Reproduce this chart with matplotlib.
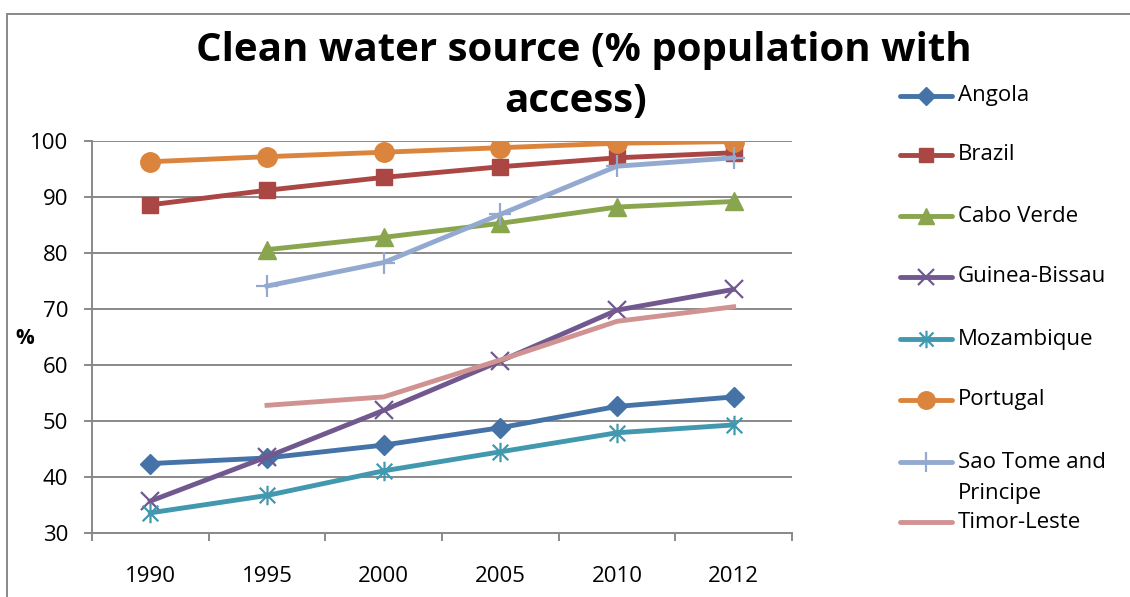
import numpy as np
import matplotlib
matplotlib.use('Agg')
import matplotlib.pyplot as plt
from matplotlib.lines import Line2D
from matplotlib.patches import Rectangle
from matplotlib.path import Path

years = ['1990', '1995', '2000', '2005', '2010', '2012']
nan = np.nan
angola = [42.4, 43.4, 45.7, 48.8, 52.6, 54.3]
brazil = [88.6, 91.2, 93.5, 95.4, 97.0, 97.9]
cabo_verde = [nan, 80.6, 82.8, 85.3, 88.2, 89.2]
guinea_bissau = [35.7, 43.6, 51.9, 60.7, 69.8, 73.5]
mozambique = [33.6, 36.7, 41.1, 44.5, 47.9, 49.3]
portugal = [96.3, 97.2, 98.0, 98.8, 99.6, 99.9]
sao_tome = [nan, 74.1, 78.3, 86.9, 95.5, 97.0]
timor_leste = [nan, 52.8, 54.3, 60.9, 67.8, 70.4]

names = ['Angola', 'Brazil', 'Cabo Verde', 'Guinea-Bissau', 'Mozambique',
         'Portugal', 'Sao Tome and\nPrincipe', 'Timor-Leste']
series = [angola, brazil, cabo_verde, guinea_bissau, mozambique,
          portugal, sao_tome, timor_leste]
colors = ['#4572A7', '#AA4643', '#89A54E', '#71588F', '#4198AF',
          '#DB843D', '#93A9CF', '#D19392']

# excel style star: an x with a vertical bar through it
star = Path([(0, -1), (0, 1), (-0.8, -0.8), (0.8, 0.8), (-0.8, 0.8), (0.8, -0.8)],
            [Path.MOVETO, Path.LINETO] * 3)

# marker, size, edge width
markers = [('D', 10, 1), ('s', 11, 1), ('^', 13, 1), ('x', 13, 1.6),
           (star, 14, 1.6), ('o', 14, 1), ('+', 16, 1.6), ('None', 0, 0)]

W, H = 1130, 597
plt.rcParams['font.family'] = ['Open Sans', 'DejaVu Sans']
grey = '#898989'

fig = plt.figure(figsize=(W / 100, H / 100), dpi=100)
ax = fig.add_axes([92 / W, 1 - 533 / H, 700 / W, 392 / H])

x = np.arange(len(years))
for vals, name, col, (mk, ms, mew) in zip(series, names, colors, markers):
    ax.plot(x, vals, color=col, lw=3.5, marker=mk, ms=ms, mew=mew,
            mec=col, mfc=col, label=name)

ax.set_xlim(-0.5, len(years) - 0.5)
ax.set_ylim(30, 100)
ax.set_yticks(range(30, 101, 10))
ax.set_xticks(x)
ax.set_xticklabels(years)
ax.set_xticks(np.arange(-0.5, len(years), 1), minor=True)
ax.grid(axis='y', color=grey, lw=1.4)
ax.set_axisbelow(True)
for s in ['top', 'right']:
    ax.spines[s].set_visible(False)
for s in ['left', 'bottom']:
    ax.spines[s].set_color(grey)
    ax.spines[s].set_linewidth(1.4)
ax.tick_params(axis='x', which='major', length=0, pad=24, labelsize=16)
ax.tick_params(axis='x', which='minor', length=6, width=1.4, color=grey)
ax.tick_params(axis='y', length=6, width=1.4, color=grey, pad=11, labelsize=16)

# chart frame
fig.add_artist(Rectangle((7 / W, -0.1), 1.2, 1 - 14 / H + 0.1,
                         transform=fig.transFigure, fill=False,
                         ec=grey, lw=1.4))

fig.text(584 / W, 1 - 50 / H, 'Clean water source (% population with',
         ha='center', va='center', fontsize=29, weight='bold')
fig.text(576 / W, 1 - 102 / H, 'access)',
         ha='center', va='center', fontsize=29, weight='bold')
fig.text(25 / W, 1 - 338 / H, '%', ha='center', va='center',
         fontsize=15, weight='bold')

# legend
leg_y = [96, 155, 216, 277, 339, 400, 462, 522]
for name, col, (mk, ms, mew), yy in zip(names, colors, markers, leg_y):
    fy = 1 - yy / H
    fig.add_artist(Line2D([900 / W, 926 / W, 952 / W], [fy, fy, fy],
                          transform=fig.transFigure, color=col, lw=3.5,
                          marker=mk, ms=ms * 0.9, mew=mew, mec=col, mfc=col,
                          markevery=[1], solid_capstyle='round'))
    for i, line in enumerate(name.split('\n')):
        fig.text(958 / W, 1 - (yy + 32 * i) / H, line, ha='left',
                 va='center', fontsize=16)

fig.savefig('out.png', dpi=100)
